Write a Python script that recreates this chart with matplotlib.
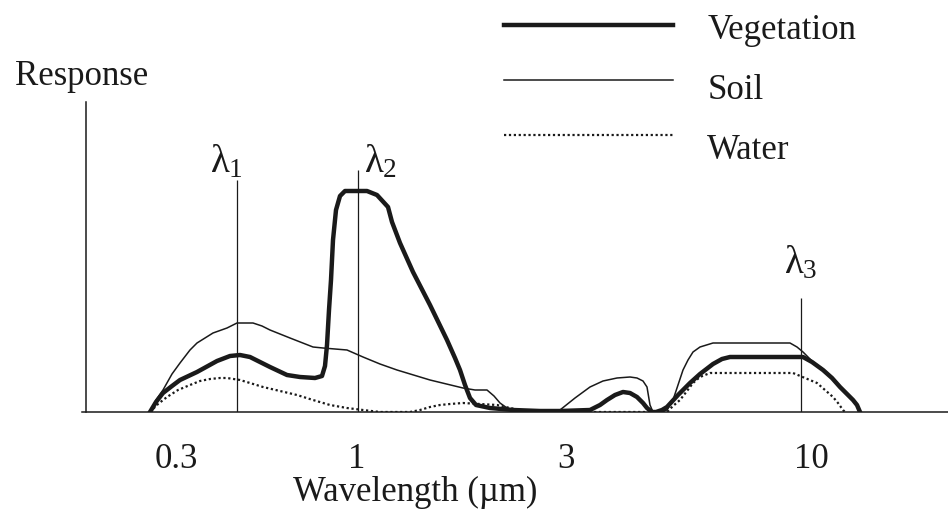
import numpy as np
import matplotlib.pyplot as plt
from matplotlib.legend_handler import HandlerLine2D

plt.rcParams['font.family'] = ['Liberation Serif', 'DejaVu Serif']
plt.rcParams['mathtext.fontset'] = 'custom'
plt.rcParams['mathtext.rm'] = 'Liberation Serif'
plt.rcParams['mathtext.it'] = 'Liberation Serif'

ink = '#1a1a1a'

# schematic wavelength axis: position along the axis and its labels
tick_pos = [176, 357, 566, 811]
tick_labels = ['0.3', '1', '3', '10']

# vegetation response (position, response)
veg_x = np.array([150, 156, 163, 172, 180, 197, 217, 230, 240, 250, 260, 270, 287, 300, 315, 322,
                  325, 327, 329, 331, 333, 336, 340, 345, 367, 377, 388, 392, 400, 413, 430, 447,
                  455, 460, 465, 470, 476, 490, 513, 540, 560, 590, 600, 607, 615, 623, 630, 637,
                  643, 647, 652, 656, 662, 667, 678, 690, 700, 713, 722, 730, 803, 812, 823, 832,
                  840, 848, 853, 857, 860])
veg_y = np.array([0, 10, 19, 26, 32, 40, 51, 56, 57, 55, 50, 45, 37, 35, 34, 36,
                  46, 67, 102, 132, 172, 202, 216, 221, 221, 217, 205, 190, 169, 140, 107, 72,
                  54, 42, 27, 14, 7, 4, 2, 1, 1, 2, 7, 12, 17, 20, 19, 15,
                  9, 4, 0, 0, 2, 5, 17, 29, 38, 48, 53, 55, 55, 50, 42, 34,
                  25, 17, 12, 7, 0])

# soil response
soil_x = np.array([150, 156, 163, 172, 180, 190, 197, 205, 213, 227, 237, 253, 262, 270, 290, 313,
                   323, 347, 363, 380, 397, 430, 463, 475, 487, 494, 500, 507, 513, 530, 545, 560,
                   575, 590, 603, 617, 630, 637, 643, 647, 650, 653, 660, 667, 673, 678, 683, 688,
                   693, 700, 713, 790, 797, 803, 812, 823, 832, 840, 848, 853, 857, 860])
soil_y = np.array([0, 12, 22, 38, 49, 62, 69, 74, 79, 84, 89, 89, 86, 82, 74, 65,
                   64, 62, 55, 48, 42, 32, 24, 22, 22, 16, 9, 4, 2, 1, 0, 2,
                   14, 25, 31, 34, 35, 34, 31, 25, 7, 0, 0, 2, 12, 27, 42, 52,
                   60, 65, 69, 69, 65, 60, 51, 43, 35, 26, 18, 13, 8, 0])

# water response
water_x = np.array([150, 158, 167, 178, 190, 200, 210, 220, 227, 240, 250, 263, 280, 297, 313, 330,
                    347, 363, 380, 397, 410, 420, 430, 440, 450, 463, 480, 497, 510, 520, 540, 660,
                    667, 673, 680, 687, 693, 700, 710, 793, 805, 817, 825, 833, 838, 843, 845])
water_y = np.array([0, 8, 15, 22, 27, 31, 33, 34, 34, 32, 29, 25, 21, 17, 12, 7,
                    4, 2, 0, 0, 0, 2, 5, 7, 8, 9, 8, 7, 4, 2, 0, 0,
                    0, 6, 12, 21, 29, 35, 39, 39, 34, 29, 22, 15, 9, 2, 0])

# marker wavelengths
lam_pos = [237, 358, 801]
lam_top = [232, 242, 114]
lam_names = [r'$\lambda_{1}$', r'$\lambda_{2}$', r'$\lambda_{3}$']
lam_label_x = [226, 380, 801]
lam_label_y = [240, 240, 139]


class RaisedLine(HandlerLine2D):
    # legend key drawn a little above the middle of its label
    def __init__(self, dy, **kw):
        super().__init__(**kw)
        self.dy = dy

    def create_artists(self, legend, orig_handle, xdescent, ydescent, width, height, fontsize, trans):
        arts = super().create_artists(legend, orig_handle, xdescent, ydescent,
                                      width, height, fontsize, trans)
        for a in arts:
            a.set_ydata(np.asarray(a.get_ydata()) + self.dy)
        return arts


fig = plt.figure(figsize=(9.48, 5.09), dpi=100)
ax = fig.add_axes([82 / 948, 97 / 509, 866 / 948, 310 / 509])
ax.set_xlim(82, 948)
ax.set_ylim(0, 310)

l_veg, = ax.plot(veg_x, veg_y, color=ink, lw=3.2, solid_joinstyle='round', label='Vegetation')
l_soil, = ax.plot(soil_x, soil_y, color=ink, lw=1.1, label='Soil')
l_water, = ax.plot(water_x, water_y, color=ink, lw=1.6, ls=(0, (1, 1.2)), label='Water')

ax.vlines(lam_pos, 0, lam_top, color=ink, lw=0.9)
for name, lx, ly in zip(lam_names, lam_label_x, lam_label_y):
    ax.text(lx, ly, name, ha='center', va='baseline', fontsize=28, color=ink)

for s in ['top', 'right']:
    ax.spines[s].set_visible(False)
ax.spines['left'].set_position(('data', 86))
ax.spines['left'].set_linewidth(1.1)
ax.spines['bottom'].set_linewidth(1.1)
ax.spines['left'].set_color(ink)
ax.spines['bottom'].set_color(ink)

ax.set_yticks([])
ax.set_xticks(tick_pos, tick_labels)
ax.tick_params(axis='x', length=0, pad=22, labelsize=25, labelcolor=ink)

ax.text(82, 327, 'Response', ha='center', va='baseline', fontsize=25, color=ink)
ax.set_xlabel('Wavelength (µm)', fontsize=25, color=ink)
ax.xaxis.set_label_coords((415 - 82) / 866, -0.205)

hmap = {l_veg: RaisedLine(1.5),
        l_soil: RaisedLine(5.0),
        l_water: RaisedLine(8.6)}
fig.legend(handles=[l_veg, l_soil, l_water], loc='upper left',
           bbox_to_anchor=(504 / 948, 1 - 14 / 509), bbox_transform=fig.transFigure,
           frameon=False, fontsize=25, borderpad=0, borderaxespad=0,
           handlelength=4.87, handletextpad=0.98, labelspacing=0.78,
           handler_map=hmap, labelcolor=ink)

fig.savefig('out.png', dpi=100)
